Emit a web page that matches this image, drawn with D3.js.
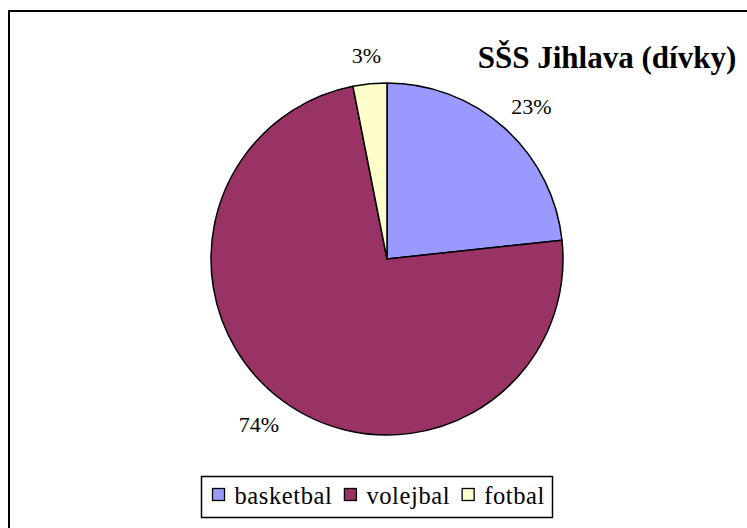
<!DOCTYPE html>
<html>
<head>
<meta charset="utf-8">
<script src="https://cdn.jsdelivr.net/npm/d3@7"></script>
<style>
body { margin: 0; background: #fff; }
svg { display: block; font-family: "Liberation Serif", "Times New Roman", serif; }
</style>
</head>
<body>
<svg width="747" height="528"></svg>
<script>
// chart data
var categories = ["basketbal", "volejbal", "fotbal"];
var values = [23.3, 73.6, 3.1];
var colors = ["#9999FF", "#993366", "#FFFFCC"];
var title = "SŠS Jihlava (dívky)";

var svg = d3.select("svg");

// chart frame
svg.append("rect")
    .attr("x", 9).attr("y", 11)
    .attr("width", 760).attr("height", 540)
    .attr("fill", "#fff")
    .attr("stroke", "#000")
    .attr("stroke-width", 2);

var cx = 387, cy = 259, r = 176;
var total = d3.sum(values);

var pie = d3.pie().sort(null).value(function(d) { return d; });
var arcs = pie(values);
var arc = d3.arc().innerRadius(0).outerRadius(r);

var g = svg.append("g").attr("transform", "translate(" + cx + "," + cy + ")");

g.selectAll("path")
    .data(arcs)
  .enter().append("path")
    .attr("d", arc)
    .attr("fill", function(d, i) { return colors[i]; })
    .attr("stroke", "#000")
    .attr("stroke-width", 1.5)
    .attr("stroke-linejoin", "round");

// labels sit just outside the edge, pushed out by half their own box
var lblFont = 22, lblGap = 20;
g.selectAll("text.lbl")
    .data(arcs)
  .enter().append("text")
    .attr("class", "lbl")
    .attr("text-anchor", "middle")
    .attr("dy", "0.35em")
    .style("font-size", lblFont + "px")
    .text(function(d) { return Math.round(d.value / total * 100) + "%"; })
    .attr("transform", function(d) {
        var a = (d.startAngle + d.endAngle) / 2,
            s = Math.sin(a), c = Math.cos(a),
            w = this.getComputedTextLength(), h = lblFont * 0.8;
        var x = s * (r + lblGap) + s * w / 2,
            y = -c * (r + lblGap) - c * h / 2;
        return "translate(" + x + "," + y + ")";
    });

// title
svg.append("text")
    .attr("x", 607).attr("y", 68)
    .attr("text-anchor", "middle")
    .style("font-size", "31px")
    .style("font-weight", "bold")
    .text(title);

// legend
var legend = svg.append("g");
legend.append("rect")
    .attr("x", 201.5).attr("y", 476.5)
    .attr("width", 351).attr("height", 41)
    .attr("fill", "#fff")
    .attr("stroke", "#000")
    .attr("stroke-width", 1.5);

var x = 212.5;
categories.forEach(function(c, i) {
    legend.append("rect")
        .attr("x", x).attr("y", 488.5)
        .attr("width", 12).attr("height", 12)
        .attr("fill", colors[i])
        .attr("stroke", "#000")
        .attr("stroke-width", 1.3);
    var t = legend.append("text")
        .attr("x", x + 22).attr("y", 504)
        .style("font-size", "24.5px")
        .style("letter-spacing", "0.6px")
        .text(c);
    x += 22 + t.node().getComputedTextLength() + 12;
});
</script>
</body>
</html>
